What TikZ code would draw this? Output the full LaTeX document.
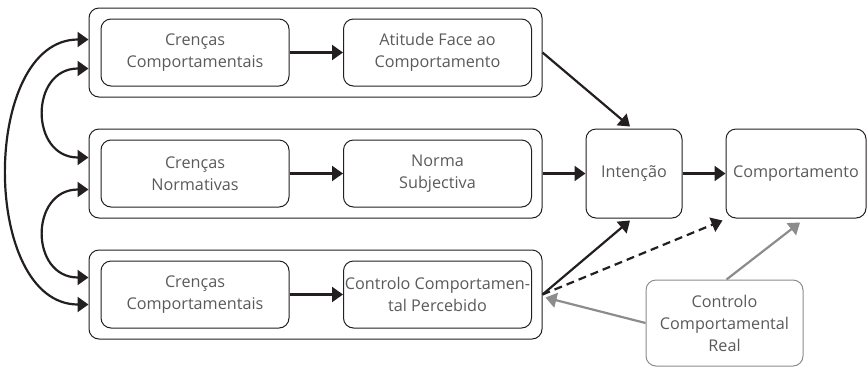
\documentclass[tikz,border=0pt]{standalone}
\usepackage{fontspec}
\setmainfont{Open Sans}
\usetikzlibrary{arrows.meta,calc}
\definecolor{ink}{RGB}{35,31,32}
\definecolor{txt}{RGB}{90,90,90}
\definecolor{greyline}{RGB}{140,140,140}
\tikzset{
  outerbox/.style={draw=ink,line width=1pt,rounded corners=10pt,
    minimum width=453pt,minimum height=89pt},
  innerbox/.style={draw=ink,line width=1pt,rounded corners=10pt,
    minimum width=188pt,minimum height=67pt,align=center,text=txt,
    font=\fontsize{16.2}{22}\selectfont},
  bigbox/.style={innerbox,minimum height=89pt},
  realbox/.style={innerbox,draw=greyline,minimum width=157pt,minimum height=86pt},
  tip/.style={-{Triangle[length=11pt,width=15pt]}},
  link/.style={tip,draw=ink,line width=2.2pt},
  biarrow/.style={{Triangle[length=11pt,width=15pt]}-{Triangle[length=11pt,width=15pt]},
    draw=ink,line width=2.2pt},
  greylink/.style={tip,draw=greyline,line width=2.2pt}
}
\begin{document}
\begin{tikzpicture}[x=1pt,y=-1pt]
\useasboundingbox (0,0) rectangle (867,368);
% three groups
\node[outerbox] (row1) at (315.5,52.5) {};
\node[outerbox] (row2) at (315.5,173.5) {};
\node[outerbox] (row3) at (315.5,294.5) {};
\node[innerbox] (cren1) at (195,52.5) {Crenças\\Comportamentais};
\node[innerbox] (atit) at (437.5,52.5) {Atitude Face ao\\Comportamento};
\node[innerbox] (cren2) at (195,173.5) {Crenças\\Normativas};
\node[innerbox] (norma) at (437.5,173.5) {Norma\\Subjectiva};
\node[innerbox] (cren3) at (195,294.5) {Crenças\\Comportamentais};
\node[innerbox,inner sep=0pt] (ccp) at (437.5,294.5) {Controlo Comportamen-\\tal Percebido};
% right part
\node[bigbox,minimum width=96pt] (int) at (634,173.5) {Intenção};
\node[bigbox,minimum width=140pt,inner sep=0pt] (comp) at (796,173.5) {Comportamento};
\node[realbox,text=txt] (real) at (724.5,323) {Controlo\\Comportamental\\Real};
\draw[link] (cren1) -- (atit);
\draw[link] (cren2) -- (norma);
\draw[link] (cren3) -- (ccp);
\draw[link] (row1.east) -- ($(int.north)+(-4,-2)$);
\draw[link] (row2.east) -- (int.west);
\draw[link] (int.east) -- (comp.west);
\draw[link] (row3.east) -- ($(int.south)+(-4,2)$);
\draw[link,dashed,dash pattern=on 8pt off 5pt] (row3.east) -- ($(comp.south west)+(-3,2)$);
\draw[greylink] (real.west) -- ($(row3.east)+(3,3)$);
\draw[greylink] ($(real.north)+(2,0)$) -- ($(comp.south)+(4,4)$);
% left loops
\coordinate (l1a) at ($(row1.west)+(0,-13)$);
\coordinate (l1b) at ($(row1.west)+(0,16)$);
\coordinate (l2a) at ($(row2.west)+(0,-16)$);
\coordinate (l2b) at ($(row2.west)+(0,16)$);
\coordinate (l3a) at ($(row3.west)+(0,-17)$);
\coordinate (l3b) at ($(row3.west)+(0,10)$);
\draw[biarrow] (l1a) .. controls +(-108,0) and +(-108,0) .. (l3b);
\draw[biarrow] (l1b) .. controls +(-59,0) and +(-59,0) .. (l2a);
\draw[biarrow] (l2b) .. controls +(-59,0) and +(-59,0) .. (l3a);
\end{tikzpicture}
\end{document}
